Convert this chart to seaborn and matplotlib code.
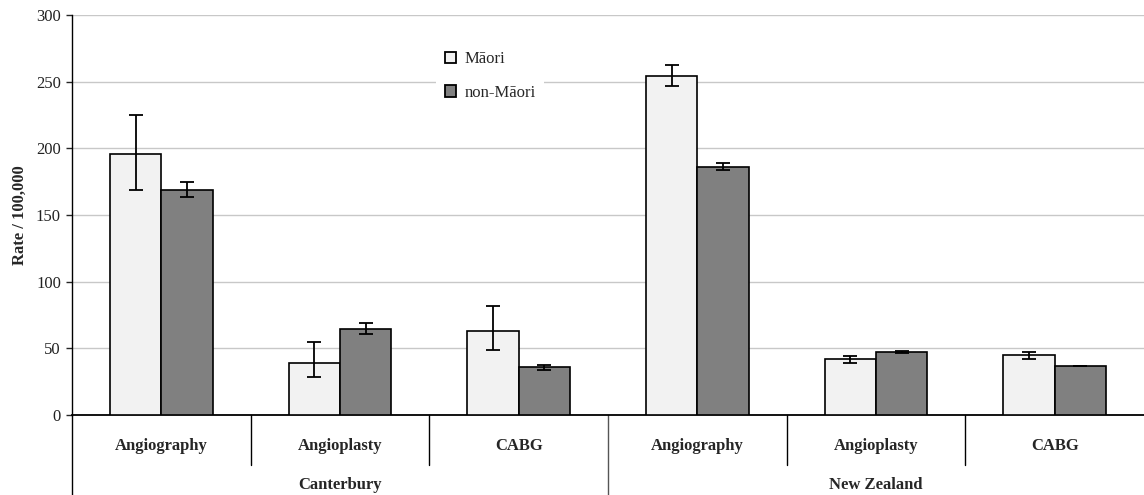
import pandas as pd
import numpy as np
import matplotlib.pyplot as plt
import matplotlib.transforms as mtransforms
import seaborn as sns

# data
regions = ["Canterbury", "Canterbury", "Canterbury", "New Zealand", "New Zealand", "New Zealand"]
procedures = ["Angiography", "Angioplasty", "CABG", "Angiography", "Angioplasty", "CABG"]
maori = [195.5, 39.1, 63.2, 254.4, 41.9, 44.7]
maori_lo = [168.4, 28.6, 48.9, 246.6, 39.2, 41.9]
maori_hi = [224.8, 54.4, 81.4, 262.2, 44.4, 47.2]
non_maori = [168.4, 64.7, 36.1, 186.2, 47.2, 36.7]
non_maori_lo = [163.2, 60.7, 33.8, 184.0, 46.7, 36.4]
non_maori_hi = [175.0, 68.7, 37.8, 188.7, 48.2, 37.0]
groups = ["Māori", "non-Māori"]

keys = [r + "|" + p for r, p in zip(regions, procedures)]
df = pd.DataFrame({
    "key": keys * 2,
    "group": [groups[0]] * 6 + [groups[1]] * 6,
    "rate": maori + non_maori,
    "lo": maori_lo + non_maori_lo,
    "hi": maori_hi + non_maori_hi,
})

sns.set_style("white")
plt.rcParams["font.family"] = ["Liberation Serif", "DejaVu Serif"]

fig = plt.figure(figsize=(11.44, 4.95), dpi=100)
ax = fig.add_axes([72 / 1144, 80 / 495, 1072 / 1144, 400 / 495])

sns.barplot(data=df, x="key", y="rate", hue="group", order=keys, hue_order=groups,
            palette=["#f2f2f2", "#808080"], width=0.576, errorbar=None,
            edgecolor="black", linewidth=1.2, ax=ax, zorder=3)

# error bars on the bar centres
for patch, (_, row) in zip(ax.patches, df.iterrows()):
    cx = patch.get_x() + patch.get_width() / 2
    ax.errorbar(cx, row["rate"], yerr=[[row["rate"] - row["lo"]], [row["hi"] - row["rate"]]],
                fmt="none", ecolor="black", elinewidth=1.3, capsize=4.7, capthick=1.3, zorder=4)

ax.set_ylim(0, 300)
ax.set_xlim(-0.5, 5.5)
ax.set_yticks(range(0, 301, 50))
ax.tick_params(axis="y", labelsize=12, length=4, width=1, direction="out", left=True, pad=4,
               labelcolor="#222222")
ax.yaxis.grid(True, color="#c8c8c8", linewidth=1)
ax.set_axisbelow(True)
ax.set_xticks([])
ax.set_xlabel("")
ax.set_ylabel("Rate / 100,000", fontsize=12, fontweight="bold", labelpad=6)

for s in ["top", "right"]:
    ax.spines[s].set_visible(False)
ax.spines["left"].set_color("black")
ax.spines["bottom"].set_color("black")
ax.spines["left"].set_linewidth(1)
ax.spines["bottom"].set_linewidth(1.3)

# category axis below the plot
trans = mtransforms.blended_transform_factory(ax.transData, ax.transAxes)
for x in [0.5, 1.5, 3.5, 4.5]:
    ax.plot([x, x], [0, -0.125], color="black", lw=1, transform=trans, clip_on=False)
for x in [-0.5, 2.5]:
    ax.plot([x, x], [0, -0.2], color="#555555" if x != -0.5 else "black", lw=1,
            transform=trans, clip_on=False)
for i, p in enumerate(procedures):
    ax.text(i, -0.078, p, transform=trans, ha="center", va="center",
            fontsize=12, fontweight="bold")
ax.text(1, -0.175, "Canterbury", transform=trans, ha="center", va="center",
        fontsize=12, fontweight="bold")
ax.text(4, -0.175, "New Zealand", transform=trans, ha="center", va="center",
        fontsize=12, fontweight="bold")

leg = ax.legend(loc="upper left", bbox_to_anchor=(0.34, 0.93), frameon=True,
                fontsize=12, handlelength=0.7, handleheight=0.7, labelspacing=1.05,
                handletextpad=0.5, borderpad=0.5, borderaxespad=0)
leg.get_frame().set_facecolor("white")
leg.get_frame().set_edgecolor("none")
leg.get_frame().set_alpha(1)
for h in leg.legend_handles:
    h.set_edgecolor("black")
    h.set_linewidth(1.3)

fig.savefig("out.png", dpi=100)
